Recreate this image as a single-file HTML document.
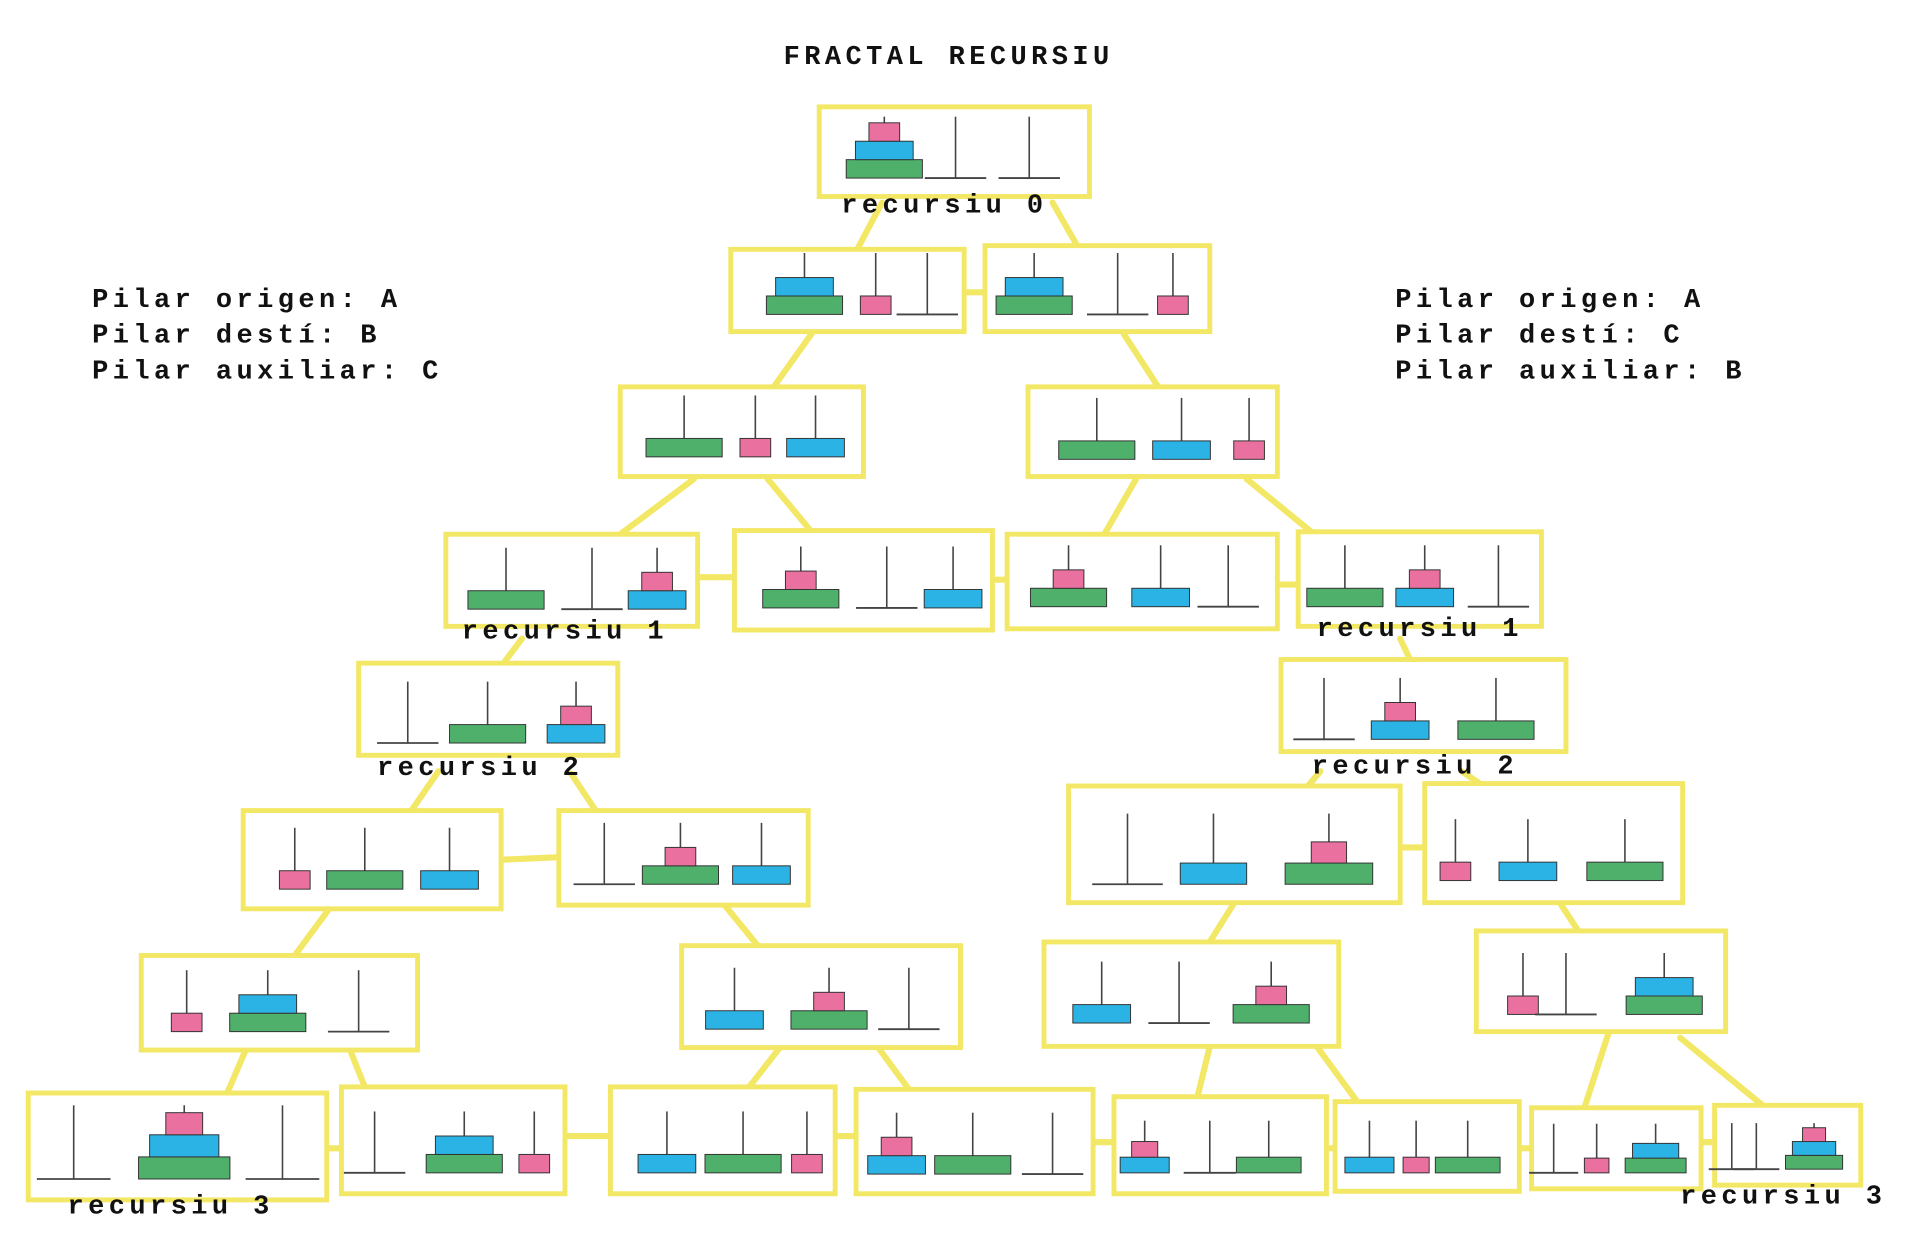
<!DOCTYPE html>
<html><head><meta charset="utf-8"><style>
html,body{margin:0;padding:0;background:#fff;}
svg{display:block;}
text{font-family:"Liberation Mono","DejaVu Sans Mono",monospace;font-weight:bold;font-size:22px;letter-spacing:3.6px;fill:#111;}
</style></head><body>
<svg id="s" width="1916" height="1242" viewBox="0 0 1560 1011.3" preserveAspectRatio="none" xmlns="http://www.w3.org/2000/svg">
<g id="lines" stroke="#f3e766" stroke-width="5" fill="none" stroke-linecap="round"></g>
<g id="boxes"></g>
<text x="638" y="52">FRACTAL RECURSIU</text>
<text x="75" y="250">Pilar origen: A</text>
<text x="75" y="279">Pilar destí: B</text>
<text x="75" y="308">Pilar auxiliar: C</text>
<text x="1136" y="250">Pilar origen: A</text>
<text x="1136" y="279">Pilar destí: C</text>
<text x="1136" y="308">Pilar auxiliar: B</text>
<text x="685" y="173">recursiu 0</text>
<text x="376" y="520">recursiu 1</text>
<text x="1072" y="518">recursiu 1</text>
<text x="307" y="631">recursiu 2</text>
<text x="1068" y="630">recursiu 2</text>
<text x="55" y="988">recursiu 3</text>
<text x="1368" y="980">recursiu 3</text>
</svg>
<script>
var NS="http://www.w3.org/2000/svg";
function el(p,t,a){var e=document.createElementNS(NS,t);for(var k in a)e.setAttribute(k,a[k]);p.appendChild(e);return e;}
var L=document.getElementById('lines'),B=document.getElementById('boxes');
var conn=[[718,165,698,203],[857,165,877,200],[785,238,802,238],[662,270,630,315],[915,272,943,315],
[565,390,505,435],[625,390,660,432],[925,390,898,437],[1015,390,1070,435],
[568,470,598,470],[808,472,820,472],[1040,476,1057,476],
[425,520,410,540],[1140,520,1148,537],[357,628,335,660],[465,630,485,660],[408,700,455,698],
[1075,628,1065,640],[1190,628,1205,638],[1140,690,1160,690],
[268,740,240,778],[590,737,617,770],[1005,735,985,767],[1270,735,1285,758],
[200,855,185,890],[285,855,297,885],[635,853,610,885],[715,853,740,887],[985,852,975,893],[1072,852,1105,897],[1310,840,1290,902],[1368,845,1435,900],
[266,935,278,935],[460,925,497,925],[680,925,697,925],[890,930,907,930],[1080,935,1087,935],[1237,935,1247,935],[1385,930,1396,930]];
conn.forEach(function(c){el(L,'line',{x1:c[0],y1:c[1],x2:c[2],y2:c[3]});});
var W={G:62,B:47,P:25},C={G:'#4fb06b',B:'#2ab3e4',P:'#ea70a0'};
var boxes=[
[667,87,887,160,145,[[720,'GBP'],[778,''],[838,'']]],
[595,203,785,270,256,[[655,'GB'],[713,'P'],[755,'']]],
[802,200,985,270,256,[[842,'GB'],[910,''],[955,'P']]],
[505,315,703,388,372,[[557,'G'],[615,'P'],[664,'B']]],
[837,315,1040,388,374,[[893,'G'],[962,'B'],[1017,'P']]],
[363,435,568,510,496,[[412,'G'],[482,''],[535,'BP']]],
[598,432,808,513,495,[[652,'GP'],[722,''],[776,'B']]],
[820,435,1040,512,494,[[870,'GP'],[945,'B'],[1000,'']]],
[1057,433,1255,510,494,[[1095,'G'],[1160,'BP'],[1220,'']]],
[292,540,503,615,605,[[332,''],[397,'G'],[469,'BP']]],
[1043,537,1275,612,602,[[1078,''],[1140,'BP'],[1218,'G']]],
[198,660,408,740,724,[[240,'P'],[297,'G'],[366,'B']]],
[455,660,658,737,720,[[492,''],[554,'GP'],[620,'B']]],
[870,640,1140,735,720,[[918,''],[988,'B'],[1082,'GP']],1.15],
[1160,638,1370,735,717,[[1185,'P'],[1244,'B'],[1323,'G']]],
[115,778,340,855,840,[[152,'P'],[218,'GB'],[292,'']]],
[555,770,782,853,838,[[598,'B'],[675,'GP'],[740,'']]],
[850,767,1090,852,833,[[897,'B'],[960,''],[1035,'GP']]],
[1202,758,1405,840,826,[[1240,'P'],[1275,''],[1355,'GB']]],
[23,890,266,977,960,[[60,''],[150,'GBP'],[230,'']],1.2],
[278,885,460,972,955,[[305,''],[378,'GB'],[435,'P']]],
[497,885,680,972,955,[[543,'B'],[605,'G'],[657,'P']]],
[697,887,890,972,956,[[730,'BP'],[792,'G'],[857,'']]],
[907,893,1080,972,955,[[932,'BP'],[985,''],[1033,'G']],0.85],
[1087,897,1237,970,955,[[1115,'B'],[1153,'P'],[1195,'G']],0.85],
[1247,902,1385,968,955,[[1265,''],[1300,'P'],[1348,'GB']],0.8],
[1396,900,1515,965,952,[[1410,''],[1430,''],[1477,'GBP']],0.75]];
boxes.forEach(function(b){
 var s=b[6]||1;
 el(B,'rect',{x:b[0],y:b[1],width:b[2]-b[0],height:b[3]-b[1],fill:'#fff',stroke:'#f3e766','stroke-width':4});
 var base=b[4];
 b[5].forEach(function(p){
  var x=p[0];
  el(B,'line',{x1:x,y1:base-50*s,x2:x,y2:base,stroke:'#444','stroke-width':1.3});
  if(p[1]==='')el(B,'line',{x1:x-25*s,y1:base,x2:x+25*s,y2:base,stroke:'#444','stroke-width':1.5});
  var y=base;
  for(var i=0;i<p[1].length;i++){var d=p[1][i];var w=W[d]*s,h=15*s;y-=h;
   el(B,'rect',{x:x-w/2,y:y,width:w,height:h,fill:C[d],stroke:'#333','stroke-width':0.8});}
 });
});
</script>
</body></html>
